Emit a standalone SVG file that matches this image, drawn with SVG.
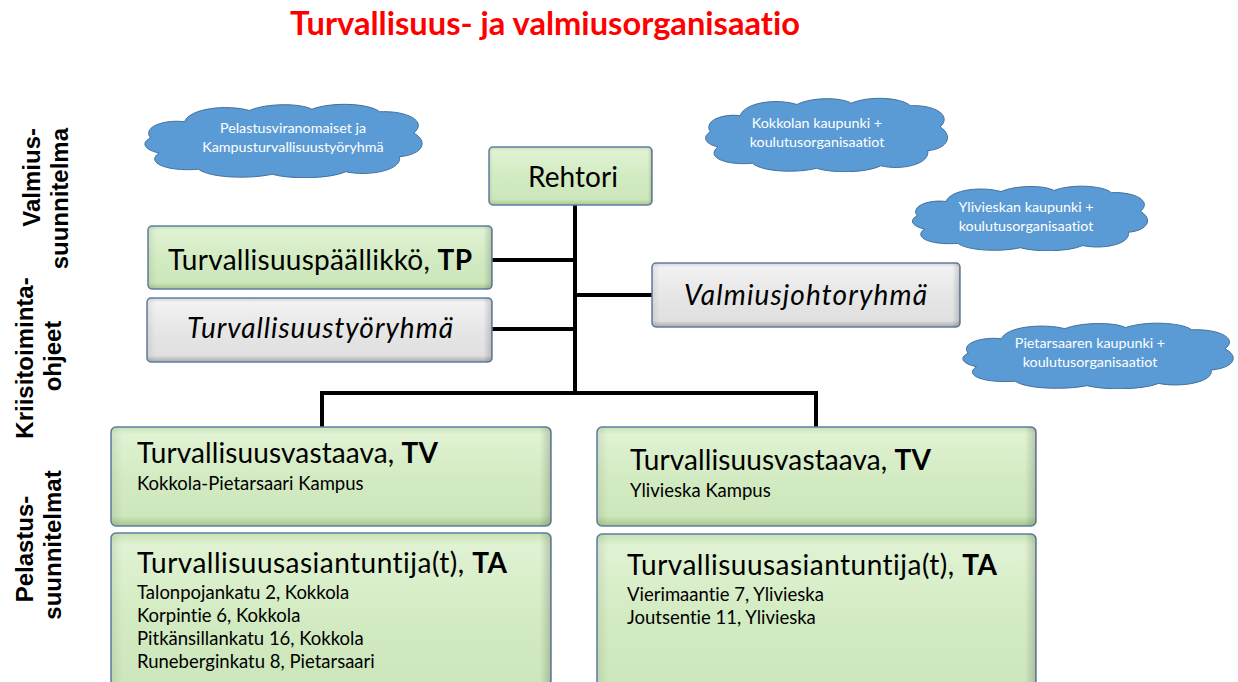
<svg xmlns="http://www.w3.org/2000/svg" xmlns:xlink="http://www.w3.org/1999/xlink" width="1238" height="682" viewBox="0 0 1238 682">
<style>
  text { font-variant-ligatures: none; font-feature-settings: "liga" 0, "clig" 0; }
  .box { stroke: #5f7fa6; stroke-width: 1.5; }
  .green { fill: url(#gGreen); }
  .gray { fill: url(#gGray); }
  .edge { fill: url(#gEdge); stroke: none; }
  .t { font-family: Lato, "Liberation Sans", sans-serif; fill: #000; }
  .big { font-size: 28px; }
  .small { font-size: 18.5px; }
  .cloudtxt { font-family: Lato, "Liberation Sans", sans-serif; font-size: 14.3px; fill: #fff; text-anchor: middle; }
  .side { font-family: "Liberation Sans", Arial, sans-serif; font-weight: bold; font-size: 24px; fill: #000; }
  .conn { fill: none; stroke: #000; stroke-width: 4; stroke-linecap: square; stroke-linejoin: miter; }
  .cloud { fill: #5B9BD5; stroke: #41719C; stroke-width: 1; }
</style>
<defs>
  <linearGradient id="gGreen" x1="0" y1="0" x2="0" y2="1">
    <stop offset="0" stop-color="#c6e2b1"/>
    <stop offset="0.07" stop-color="#e0f2d3"/>
    <stop offset="0.5" stop-color="#d3ebc2"/>
    <stop offset="0.9" stop-color="#cde6bb"/>
    <stop offset="1" stop-color="#a5c68c"/>
  </linearGradient>
  <linearGradient id="gGray" x1="0" y1="0" x2="0" y2="1">
    <stop offset="0" stop-color="#d4d4d4"/>
    <stop offset="0.07" stop-color="#f2f2f2"/>
    <stop offset="0.5" stop-color="#e6e6e6"/>
    <stop offset="0.9" stop-color="#e0e0e0"/>
    <stop offset="1" stop-color="#a9a9a9"/>
  </linearGradient>
  <linearGradient id="gEdge" x1="0" y1="0" x2="1" y2="0">
    <stop offset="0" stop-color="#000" stop-opacity="0.08"/>
    <stop offset="0.025" stop-color="#000" stop-opacity="0"/>
    <stop offset="0.975" stop-color="#000" stop-opacity="0"/>
    <stop offset="1" stop-color="#000" stop-opacity="0.18"/>
  </linearGradient>
  <symbol id="cloud" viewBox="0 0 100 60" preserveAspectRatio="none">
    <path class="cloud" vector-effect="non-scaling-stroke" d="M3,28 C0,19 8,13 15,15 C17,4 30,1 38,6 C44,0 56,0 60,5 C67,-1 80,0 84,7 C94,6 101,15 96,24 C101,30 100,41 91,43 C92,54 80,59 72,55 C66,61 52,61 46,57 C38,61 24,60 20,53 C9,55 1,48 6,40 C0,37 0,31 3,28 Z"/>
  </symbol>
</defs>

<rect width="1238" height="682" fill="#fff"/>

<text x="290" y="35" textLength="510" lengthAdjust="spacingAndGlyphs" style="font-family: Lato, 'Liberation Sans', sans-serif; font-weight: bold; font-size: 32px; fill: #ff0000;">Turvallisuus- ja valmiusorganisaatio</text>

<g id="side-labels">
  <text class="side" text-anchor="end" transform="translate(40,128) rotate(-90)">Valmius-</text>
  <text class="side" text-anchor="end" transform="translate(68,128) rotate(-90)">suunnitelma</text>
  <text class="side" text-anchor="middle" transform="translate(33,358) rotate(-90)">Kriisitoiminta-</text>
  <text class="side" text-anchor="middle" transform="translate(61,356) rotate(-90)">ohjeet</text>
  <text class="side" text-anchor="middle" transform="translate(33,549) rotate(-90)">Pelastus-</text>
  <text class="side" text-anchor="middle" transform="translate(61,545) rotate(-90)">suunnitelmat</text>
</g>

<g id="cloud-pelastus">
  <use xlink:href="#cloud" href="#cloud" x="142" y="103" width="283" height="75"/>
  <text class="cloudtxt" x="293" y="133">Pelastusviranomaiset ja</text>
  <text class="cloudtxt" x="293" y="152">Kampusturvallisuustyöryhmä</text>
</g>
<g id="cloud-kokkola">
  <use xlink:href="#cloud" href="#cloud" x="703" y="97" width="247" height="75"/>
  <text class="cloudtxt" x="817" y="128">Kokkolan kaupunki +</text>
  <text class="cloudtxt" x="817" y="147">koulutusorganisaatiot</text>
</g>
<g id="cloud-ylivieska">
  <use xlink:href="#cloud" href="#cloud" x="910" y="185" width="240" height="66"/>
  <text class="cloudtxt" x="1026" y="212">Ylivieskan kaupunki +</text>
  <text class="cloudtxt" x="1026" y="231">koulutusorganisaatiot</text>
</g>
<g id="cloud-pietarsaari">
  <use xlink:href="#cloud" href="#cloud" x="960" y="322" width="276" height="67"/>
  <text class="cloudtxt" x="1090" y="348">Pietarsaaren kaupunki +</text>
  <text class="cloudtxt" x="1090" y="367">koulutusorganisaatiot</text>
</g>

<g id="connectors">
  <path class="conn" d="M575,207 V393"/>
  <path class="conn" d="M494,260 H575"/>
  <path class="conn" d="M575,295 H650"/>
  <path class="conn" d="M494,329 H575"/>
  <path class="conn" d="M322,425 V393 H816 V425"/>
</g>

<g id="rehtori">
  <rect class="box green" x="489" y="147" width="163" height="58" rx="4"/>
  <rect class="edge" x="489" y="147" width="163" height="58" rx="4"/>
  <text class="t big" x="528" y="187" textLength="90">Rehtori</text>
</g>
<g id="turvallisuuspaallikko">
  <rect class="box green" x="148" y="226" width="344" height="63" rx="4"/>
  <rect class="edge" x="148" y="226" width="344" height="63" rx="4"/>
  <text class="t big" x="168" y="270" textLength="304">Turvallisuuspäällikkö, <tspan font-weight="bold">TP</tspan></text>
</g>
<g id="turvallisuustyoryhma">
  <rect class="box gray" x="147" y="298" width="345" height="64" rx="4"/>
  <rect class="edge" x="147" y="298" width="345" height="64" rx="4"/>
  <text class="t big" x="187" y="338" textLength="266" font-style="italic">Turvallisuustyöryhmä</text>
</g>
<g id="valmiusjohtoryhma">
  <rect class="box gray" x="652" y="263" width="308" height="64" rx="4"/>
  <rect class="edge" x="652" y="263" width="308" height="64" rx="4"/>
  <text class="t big" x="684" y="305" textLength="243" font-style="italic">Valmiusjohtoryhmä</text>
</g>

<g id="tv-kokkola">
  <rect class="box green" x="111" y="427" width="440" height="99" rx="5"/>
  <rect class="edge" x="111" y="427" width="440" height="99" rx="5"/>
  <text class="t big" x="137" y="463" textLength="301">Turvallisuusvastaava, <tspan font-weight="bold">TV</tspan></text>
  <text class="t small" x="137" y="490">Kokkola-Pietarsaari Kampus</text>
</g>
<g id="ta-kokkola">
  <rect class="box green" x="111" y="533" width="440" height="165" rx="5"/>
  <rect class="edge" x="111" y="533" width="440" height="165" rx="5"/>
  <text class="t big" x="137" y="573" textLength="370">Turvallisuusasiantuntija(t), <tspan font-weight="bold">TA</tspan></text>
  <text class="t small" x="137" y="599">Talonpojankatu 2, Kokkola</text>
  <text class="t small" x="137" y="622">Korpintie 6, Kokkola</text>
  <text class="t small" x="137" y="645">Pitkänsillankatu 16, Kokkola</text>
  <text class="t small" x="137" y="668">Runeberginkatu 8, Pietarsaari</text>
</g>

<g id="tv-ylivieska">
  <rect class="box green" x="597" y="427" width="439" height="99" rx="5"/>
  <rect class="edge" x="597" y="427" width="439" height="99" rx="5"/>
  <text class="t big" x="630" y="470" textLength="301">Turvallisuusvastaava, <tspan font-weight="bold">TV</tspan></text>
  <text class="t small" x="630" y="497">Ylivieska Kampus</text>
</g>
<g id="ta-ylivieska">
  <rect class="box green" x="597" y="534" width="439" height="165" rx="5"/>
  <rect class="edge" x="597" y="534" width="439" height="165" rx="5"/>
  <text class="t big" x="627" y="575" textLength="370">Turvallisuusasiantuntija(t), <tspan font-weight="bold">TA</tspan></text>
  <text class="t small" x="627" y="601">Vierimaantie 7, Ylivieska</text>
  <text class="t small" x="627" y="624">Joutsentie 11, Ylivieska</text>
</g>
</svg>
